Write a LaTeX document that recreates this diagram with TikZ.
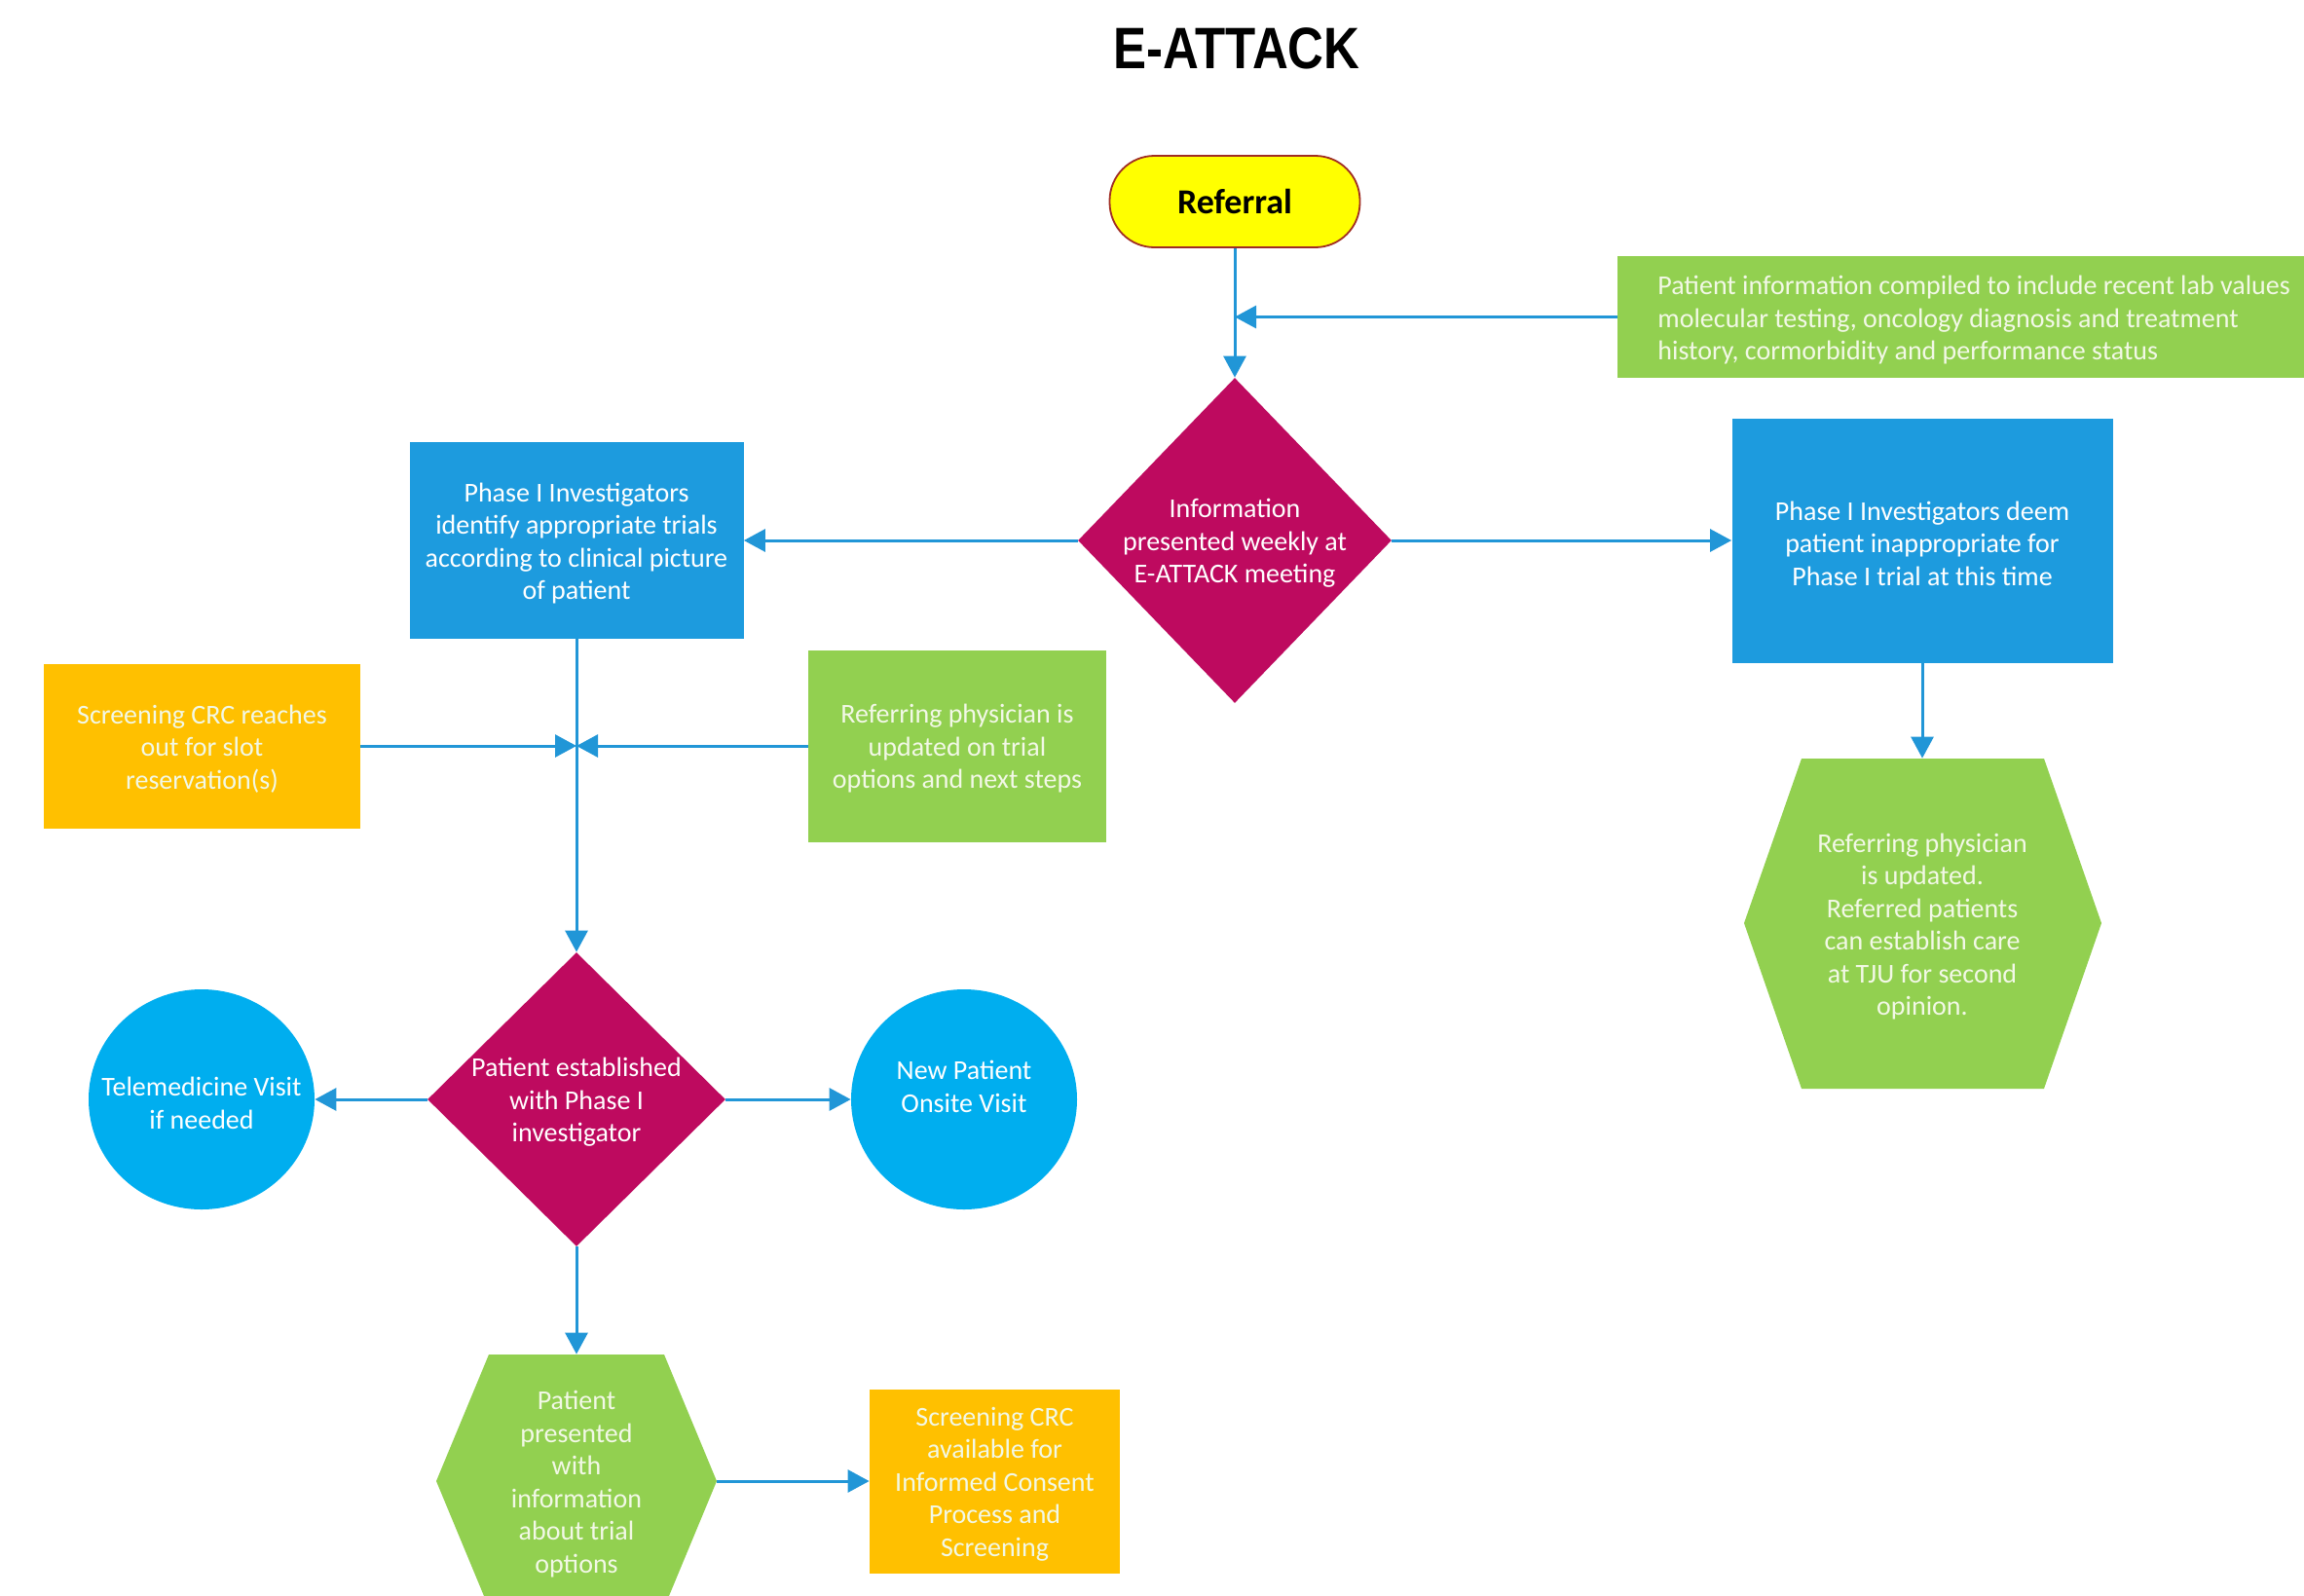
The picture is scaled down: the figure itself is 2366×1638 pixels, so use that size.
\documentclass[tikz,border=0pt]{standalone}
\usepackage{fontspec}
\setmainfont{Carlito}
\newfontfamily\titlefont{Liberation Sans}
\usetikzlibrary{arrows.meta,shapes.geometric}
\definecolor{linec}{RGB}{33,150,215}
\definecolor{bluebox}{RGB}{29,155,222}
\definecolor{cyanc}{RGB}{0,174,239}
\definecolor{greenc}{RGB}{146,208,80}
\definecolor{orangec}{RGB}{255,192,0}
\definecolor{magc}{RGB}{190,10,95}
\definecolor{yellowc}{RGB}{255,255,0}
\definecolor{redb}{RGB}{160,45,35}
\definecolor{palet}{RGB}{242,248,230}
\tikzset{
  conn/.style={draw=linec, line width=1.5pt, -{Triangle[length=11pt,width=11.5pt]}},
  plainbox/.style={rectangle, inner sep=0pt, draw=none},
  dia/.style={diamond, inner sep=0pt, draw=none, fill=magc},
  oval/.style={ellipse, inner sep=0pt, draw=none, fill=cyanc, minimum width=116pt, minimum height=113pt},
  txt/.style={text=white, align=center, inner sep=0pt, yshift=-1.5pt, font=\fontsize{14}{16.75}\selectfont},
  paletxt/.style={txt, text=palet},
}
\begin{document}
\begin{tikzpicture}[x=0.5pt,y=-0.5pt]
\useasboundingbox (0,0) rectangle (2366,1638);
\fill[white] (0,0) rectangle (2366,1638);

% title
\node[font=\titlefont\bfseries\fontsize{30}{36}\selectfont] (title) at (1270,50) {\scalebox{0.85}[1]{E-ATTACK}};

% referral
\node[rectangle, rounded corners=23pt, fill=yellowc, draw=redb, line width=0.9pt,
      minimum width=128.5pt, minimum height=47pt, font=\bfseries\fontsize{18}{22}\selectfont] (ref) at (1268,207) {Referral};

% top info box
\node[plainbox, fill=greenc, minimum width=352.5pt, minimum height=62.5pt] (info) at (2013.5,325.5) {};
\node[paletxt, align=left, anchor=west] (infot) at (1702,326) {Patient information compiled to include recent lab values\\molecular testing, oncology diagnosis and treatment\\history, cormorbidity and performance status};

% diamond 1
\node[dia, minimum width=161pt, minimum height=167pt] (d1) at (1268,555) {};
\node[txt] (d1t) at (d1) {Information\\presented weekly at\\E-ATTACK meeting};

% left blue box
\node[plainbox, fill=bluebox, minimum width=171.5pt, minimum height=101pt] (lb) at (592,555) {};
\node[txt] (lbt) at (lb) {Phase I Investigators\\identify appropriate trials\\according to clinical picture\\of patient};

% right blue box
\node[plainbox, fill=bluebox, minimum width=195.5pt, minimum height=125.5pt] (rb) at (1974,555) {};
\node[txt] (rbt) at (rb) {Phase I Investigators deem\\patient inappropriate for\\Phase I trial at this time};

% right hexagon
\fill[greenc] (1791,948) -- (1850,779) -- (2099,779) -- (2158,948) -- (2099,1118) -- (1850,1118) -- cycle;
\node[plainbox, minimum width=183.5pt, minimum height=169.5pt] (hexr) at (1974,948.5) {};
\node[paletxt] (hexrt) at (hexr) {Referring physician\\is updated.\\Referred patients\\can establish care\\at TJU for second\\opinion.};

% orange left
\node[plainbox, fill=orangec, minimum width=162.5pt, minimum height=84.5pt] (orl) at (207.5,766) {};
\node[paletxt] (orlt) at (orl) {Screening CRC reaches\\out for slot\\reservation(s)};

% green middle
\node[plainbox, fill=greenc, minimum width=153pt, minimum height=98.5pt] (gm) at (983,766) {};
\node[paletxt] (gmt) at (gm) {Referring physician is\\updated on trial\\options and next steps};

% diamond 2
\node[dia, minimum width=153pt, minimum height=151pt] (d2) at (592,1129) {};
\node[txt] (d2t) at (d2) {Patient established\\with Phase I\\investigator};

% circles
\node[oval] (cl) at (207,1129) {};
\node[txt] (clt) at (207,1130) {Telemedicine Visit\\if needed};
\node[oval] (cr) at (990,1129) {};
\node[txt] (crt) at (990,1113) {New Patient\\Onsite Visit};

% bottom hexagon
\fill[greenc] (448,1521) -- (502,1391) -- (682,1391) -- (736,1521) -- (682,1651) -- (502,1651) -- cycle;
\node[plainbox, minimum width=144pt, minimum height=130pt] (hexb) at (592,1521) {};
\node[paletxt] (hexbt) at (hexb) {Patient\\presented\\with\\information\\about trial\\options};

% orange bottom
\node[plainbox, fill=orangec, minimum width=128.5pt, minimum height=94.5pt] (orb) at (1021.5,1521) {};
\node[paletxt] (orbt) at (orb) {Screening CRC\\available for\\Informed Consent\\Process and\\Screening};

% connectors
\draw[conn] (ref.south) -- (d1.north);
\draw[conn] (info.west) -- (info.west -| ref.south);
\draw[conn] (d1.west) -- (lb.east);
\draw[conn] (d1.east) -- (rb.west);
\draw[conn] (rb.south) -- (hexr.north);
\draw[conn] (lb.south) -- (d2.north);
\draw[conn] (orl.east) -- (orl.east -| lb.south);
\draw[conn] (gm.west) -- (gm.west -| lb.south);
\draw[conn] (d2.west) -- (cl.east);
\draw[conn] (d2.east) -- (cr.west);
\draw[conn] (d2.south) -- (hexb.north);
\draw[conn] (hexb.east) -- (orb.west);
\end{tikzpicture}
\end{document}
